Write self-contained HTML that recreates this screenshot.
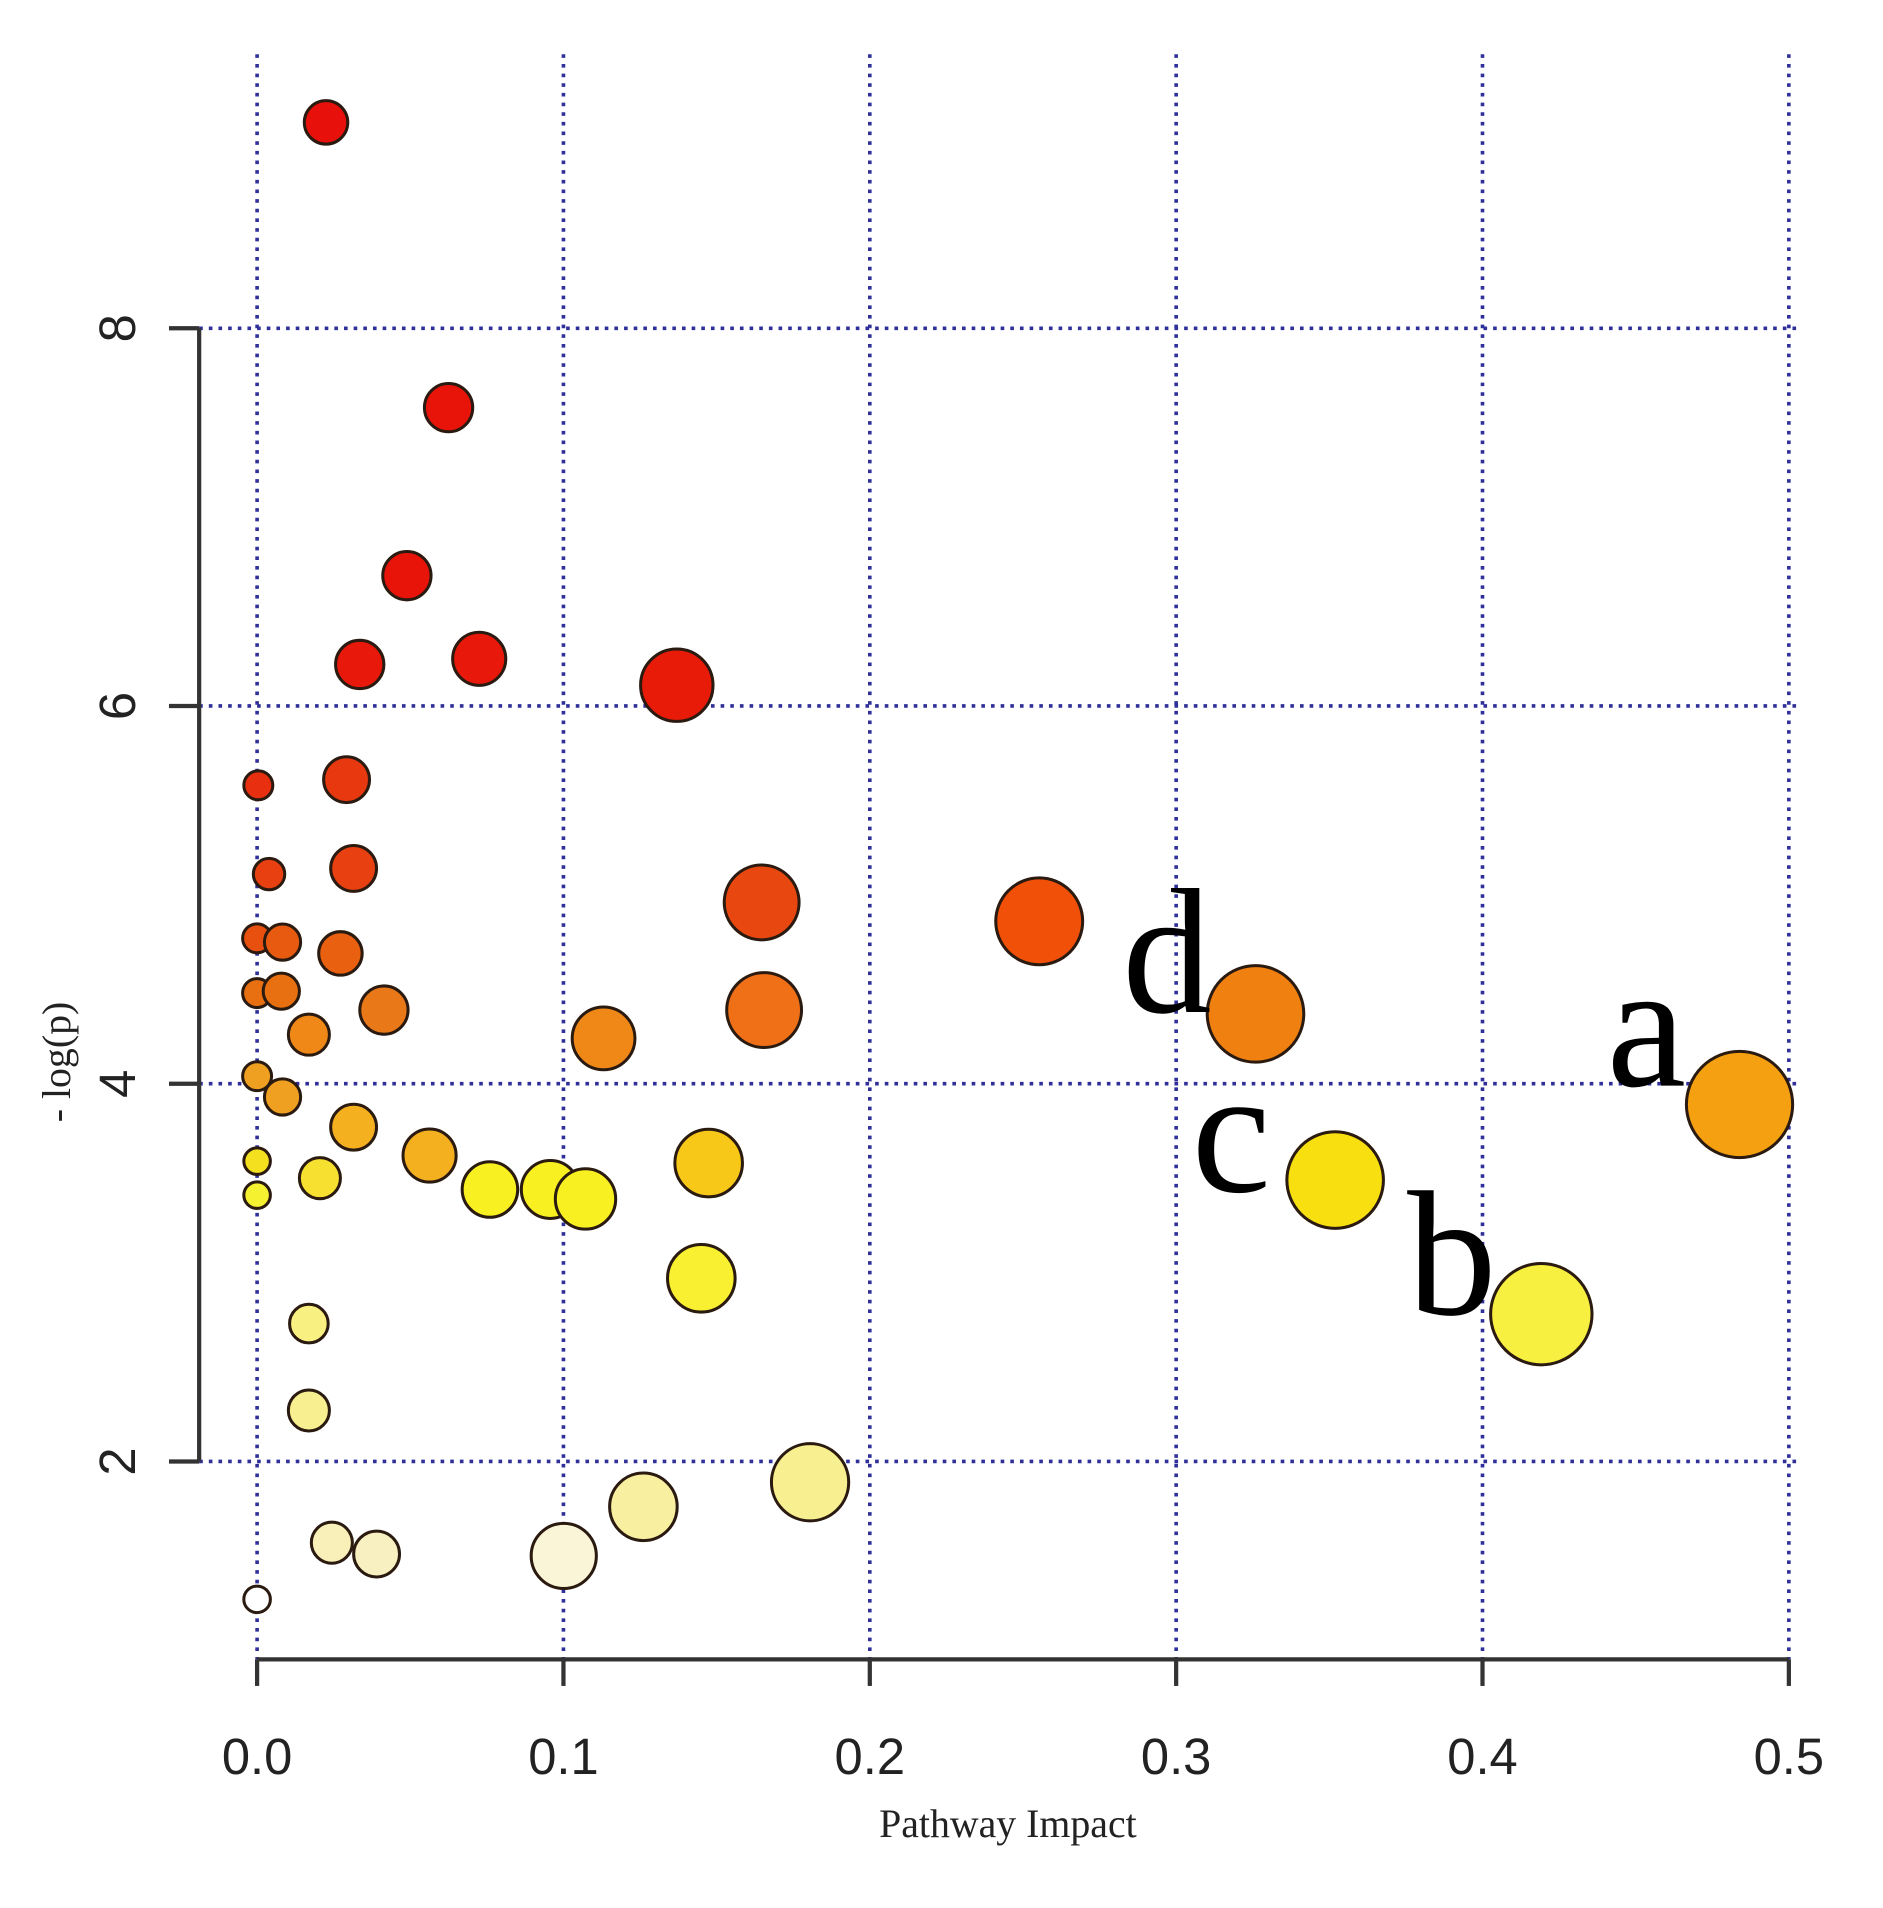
<!DOCTYPE html>
<html><head><meta charset="utf-8"><style>
html,body{margin:0;padding:0;background:#fff;}
svg{display:block;}
</style></head><body>
<svg id="chart" width="1883" height="1908" viewBox="0 0 1560 1581" preserveAspectRatio="none" xmlns="http://www.w3.org/2000/svg">
<g id="grid"></g>
<g id="axes"></g>
<g id="points"></g>
<g id="labels"></g>
</svg>
<script>
const xVals=[0.0225,0.0625,0.0489,0.0335,0.0725,0.137,0.0004,0.0292,0.0039,0.0315,0,0.0083,0.0272,0,0.0079,0.0414,0.0169,0.1131,0.1647,0.1655,0.2553,0.3259,0.4839,0,0.0083,0.0315,0.0563,0.1474,0.3519,0,0,0.0205,0.076,0.0957,0.1072,0.145,0.4192,0.0169,0.0169,0.1805,0.1261,0.0244,0.039,0.1001,0];
const yVals=[9.09,7.58,6.69,6.22,6.25,6.11,5.58,5.61,5.11,5.14,4.77,4.75,4.69,4.48,4.49,4.39,4.26,4.24,4.96,4.39,4.86,4.37,3.89,4.04,3.93,3.77,3.62,3.58,3.49,3.59,3.41,3.50,3.44,3.44,3.39,2.97,2.78,2.73,2.27,1.89,1.76,1.57,1.51,1.50,1.27];
const sizes=[18,20,20,20,22,30,12,19,13,19,12,15,18,12,15,20,17,26,31,31,36,40,44,12,15,19,22,28,40,11,11,17,23,24,25,28,42,16,17,32,28,17,19,27,11];
const colors=["#e8100a","#e8140a","#e8140a","#e8180a","#e8180a","#e81a08","#e83010","#e83810","#e84010","#e84010","#e85010","#e85a10","#e86010","#e87010","#e87010","#e87818","#f08818","#f08818","#e84810","#f07018","#f05008","#f08010","#f5a010","#f0a020","#f0a020","#f5b020","#f5b020","#f8c818","#f8e010","#f5e020","#f5f030","#f8e030","#f8f020","#f8f020","#f8f020","#f8f030","#f8f040","#f8f080","#f8f090","#f8f090","#f8f0a0","#f8f0b8","#f8f0c0","#fbf5d8","#ffffff"];
const xTicks=[0,0.1,0.2,0.3,0.4,0.5];
const xTickLabels=["0.0","0.1","0.2","0.3","0.4","0.5"];
const yTicks=[2,4,6,8];
const yTickLabels=["2","4","6","8"];
const annotations=[{t:"d",x:0.297,y:4.38},{t:"a",x:0.4535,y:3.99},{t:"c",x:0.318,y:3.43},{t:"b",x:0.39,y:2.78}];

const NS="http://www.w3.org/2000/svg";
const X=v=>213+v*2538;
const Y=v=>1524-v*156.5;
function mk(tag,attrs,parent,text){const e=document.createElementNS(NS,tag);for(const k in attrs)e.setAttribute(k,attrs[k]);if(text!==undefined)e.textContent=text;parent.appendChild(e);return e;}
const grid=document.getElementById('grid'),axes=document.getElementById('axes'),pts=document.getElementById('points'),lab=document.getElementById('labels');
const dot={stroke:"#30309a","stroke-width":3,"stroke-dasharray":"3,5"};
xTicks.forEach(v=>{const l=mk('line',Object.assign({x1:X(v),x2:X(v),y1:45,y2:1375},dot),grid);

});
yTicks.forEach(v=>{const l=mk('line',Object.assign({x1:165,x2:1492,y1:Y(v),y2:Y(v)},dot),grid);

});
const xa=mk('line',{x1:X(0),x2:X(0.5),y1:1375,y2:1375,stroke:"#333",'stroke-width':3.5},axes);


const ya=mk('line',{x1:165,x2:165,y1:Y(8),y2:Y(2),stroke:"#333",'stroke-width':3.5},axes);


xTicks.forEach((v,i)=>{mk('line',{x1:X(v),x2:X(v),y1:1375,y2:1397,stroke:"#333",'stroke-width':3.5},axes);
const t=mk('text',{x:X(v),y:1470,'text-anchor':'middle','font-family':'Liberation Sans, sans-serif','font-size':42,fill:'#222'},axes,xTickLabels[i]);

});
yTicks.forEach((v,i)=>{mk('line',{x1:140,x2:165,y1:Y(v),y2:Y(v),stroke:"#333",'stroke-width':3.5},axes);
const t=mk('text',{x:0,y:0,transform:`translate(112,${Y(v)}) rotate(-90)`,'text-anchor':'middle','font-family':'Liberation Sans, sans-serif','font-size':42,fill:'#222'},axes,yTickLabels[i]);

});
const xt=mk('text',{x:835,y:1522,'text-anchor':'middle','font-family':'Liberation Serif, serif','font-size':33,fill:'#222'},axes,'Pathway Impact');


const yt=mk('text',{x:0,y:0,transform:'translate(58,880) rotate(-90)','text-anchor':'middle','font-family':'Liberation Serif, serif','font-size':33,fill:'#222'},axes,'- log(p)');


xVals.forEach((v,i)=>{const c=mk('circle',{cx:X(v),cy:Y(yVals[i]),r:sizes[i],fill:colors[i],stroke:'#2a1a10','stroke-width':2.5},pts);

});
annotations.forEach(a=>{const t=mk('text',{x:X(a.x),y:Y(a.y),'text-anchor':'middle','font-family':'Liberation Serif, serif','font-size':148,fill:'#000'},lab,a.t);

});
</script>
</body></html>
